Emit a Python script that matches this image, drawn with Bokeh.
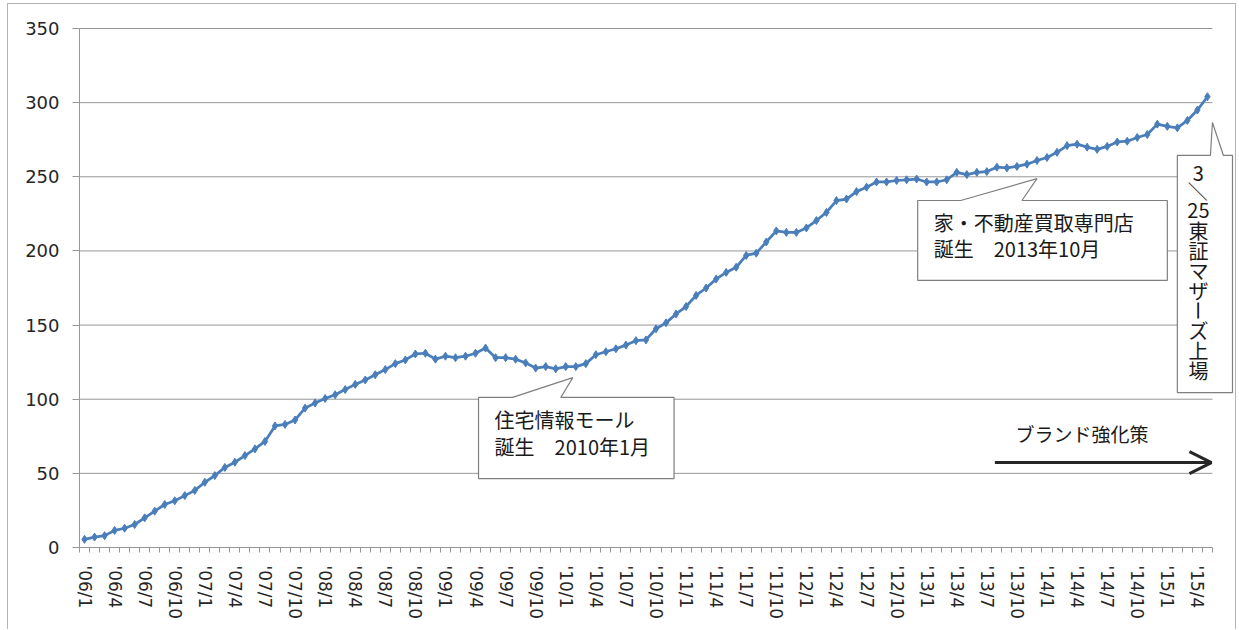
import math
from bokeh.plotting import figure
from bokeh.models import Range1d, FixedTicker, Arrow, OpenHead, ColumnDataSource
from bokeh.core.properties import value
from bokeh.embed import file_html
from bokeh.resources import INLINE

# ---- data: monthly values '06/1 .. '15/5 ----
values = [
    5.5, 7, 8, 11.5, 13, 15.5, 20, 24.5, 29, 31.5, 35, 38.5,            # 2006
    44, 48.5, 54, 57.5, 62, 66.5, 71.5, 82, 83, 86, 94, 97.5,           # 2007
    100.5, 103, 106.5, 110, 113, 116.5, 120, 124, 126.5, 130.5, 131, 127,  # 2008
    129, 128, 129, 131, 134.5, 128, 128, 127, 124.5, 121, 122, 120.5,   # 2009
    122, 122, 124, 130, 132, 134, 136.5, 139.5, 140, 147.5, 151.5, 157.5,  # 2010
    162.5, 170, 175, 181, 185.5, 189, 197, 198.5, 206, 213.5, 212.5, 212.5,  # 2011
    215.5, 220.5, 226, 234, 235, 240, 243, 246.5, 246.5, 247.5, 248, 248.5,  # 2012
    246.5, 246.5, 248, 253, 251.5, 253, 253.5, 256.5, 256, 257, 258.5, 261,  # 2013
    263, 266.5, 271, 272, 270, 268.5, 270.5, 273.5, 274, 276.5, 278.5, 285.5,  # 2014
    284, 283, 288, 295, 304,                                              # 2015
]
month_index = list(range(len(values)))

tick_labels = [
    "'06/1", "'06/4", "'06/7", "'06/10", "'07/1", "'07/4", "'07/7", "'07/10",
    "'08/1", "'08/4", "'08/7", "'08/10", "'09/1", "'09/4", "'09/7", "'09/10",
    "'10/1", "'10/4", "'10/7", "'10/10", "'11/1", "'11/4", "'11/7", "'11/10",
    "'12/1", "'12/4", "'12/7", "'12/10", "'13/1", "'13/4", "'13/7", "'13/10",
    "'14/1", "'14/4", "'14/7", "'14/10", "'15/1", "'15/4",
]
y_ticks = [0, 50, 100, 150, 200, 250, 300, 350]

# ---- annotation texts ----
callout1_lines = ["住宅情報モール", "誕生　2010年1月"]
callout2_lines = ["家・不動産買取専門店", "誕生　2013年10月"]
vertical_chars = ["3", "／", "25", "東", "証", "マ", "ザ", "ー", "ズ", "上", "場"]
brand_text = "ブランド強化策"

# ---- annotation geometry (data units: month index, value) ----
callout1_xs = [39.3, 39.3, 42.7, 48.7, 47.5, 58.8, 58.8]
callout1_ys = [46.5, 101.2, 101.2, 114.6, 101.2, 101.2, 46.5]
callout1_text_x = 40.9
callout1_text_y = [86.3, 68.1]

callout2_xs = [83.1, 83.1, 87.4, 95.0, 93.5, 108.0, 108.0]
callout2_ys = [180.1, 234.0, 234.0, 248.8, 234.0, 234.0, 180.1]
callout2_text_x = 84.7
callout2_text_y = [219.2, 201.4]

callout3_xs = [109.0, 109.0, 112.3, 112.5, 113.6, 114.5, 114.5]
callout3_ys = [104.5, 264.4, 264.4, 286.6, 264.4, 264.4, 104.5]
vertical_x = 111.1
vertical_y = [252.2, 240.1, 227.3, 213.8, 200.3, 186.8, 173.3, 159.8, 146.3, 132.9, 119.4]
vertical_angle = [0, -math.pi / 2, 0, 0, 0, 0, 0, -math.pi / 2, 0, 0, 0]

brand_x, brand_y = 92.85, 76.9
arrow_x0, arrow_x1, arrow_y = 90.8, 112.4, 57.3

LINE_BLUE = "#4a7ebb"
GRID_GRAY = "#979797"
TEXT_DARK = "#262626"
JP_FONT = "Noto Sans CJK JP"

p = figure(
    width=1229, height=626,
    x_range=Range1d(-0.5, 114.9), y_range=Range1d(0, 355.4),
    output_backend="svg", toolbar_location=None,
    min_border_left=71, min_border_right=1, min_border_top=16, min_border_bottom=83,
)
p.styles = {"border": "1px solid #b4b4b4", "border-bottom": "none",
            "margin-left": "7px", "margin-top": "3px"}
p.outline_line_color = None
p.xgrid.visible = False
p.ygrid.visible = False
p.background_fill_color = "white"
p.border_fill_color = "white"

# horizontal gridlines (limited to the category span)
n = len(values)
p.segment(x0=[-0.5] * (len(y_ticks) - 1), x1=[n - 0.5] * (len(y_ticks) - 1),
          y0=y_ticks[1:], y1=y_ticks[1:], line_color=GRID_GRAY, line_width=1)

# y axis
p.yaxis.ticker = FixedTicker(ticks=y_ticks, minor_ticks=[])
p.yaxis.bounds = (0, 350)
p.yaxis.axis_line_color = GRID_GRAY
p.yaxis.major_tick_line_color = GRID_GRAY
p.yaxis.major_tick_out = 7
p.yaxis.major_tick_in = 0
p.yaxis.minor_tick_line_color = None
p.yaxis.major_label_standoff = 13
p.yaxis.major_label_text_font = "DejaVu Sans"
p.yaxis.major_label_text_font_size = "18px"
p.yaxis.major_label_text_color = TEXT_DARK

# x axis
label_pos = list(range(0, n, 3))[:len(tick_labels)]
p.xaxis.ticker = FixedTicker(ticks=label_pos, minor_ticks=[i - 0.5 for i in range(n + 1)])
p.xaxis.bounds = (-0.5, n - 0.5)
p.xaxis.major_label_overrides = {pos: lab for pos, lab in zip(label_pos, tick_labels)}
p.xaxis.axis_line_color = GRID_GRAY
p.xaxis.major_tick_line_color = None
p.xaxis.major_tick_out = 0
p.xaxis.major_tick_in = 0
p.xaxis.minor_tick_line_color = GRID_GRAY
p.xaxis.minor_tick_out = 5
p.xaxis.minor_tick_in = 0
p.xaxis.major_label_orientation = "vertical"
p.xaxis.major_label_standoff = 13
p.xaxis.major_label_text_font = "DejaVu Sans"
p.xaxis.major_label_text_font_size = "17px"
p.xaxis.major_label_text_color = TEXT_DARK

# series
src = ColumnDataSource(dict(x=month_index, y=values))
p.line("x", "y", source=src, line_color=LINE_BLUE, line_width=2.75)
p.scatter("x", "y", source=src, marker="diamond", size=8, fill_color=LINE_BLUE, line_color=LINE_BLUE)

# callouts
for xs, ys in [(callout1_xs, callout1_ys), (callout2_xs, callout2_ys), (callout3_xs, callout3_ys)]:
    p.patch(xs, ys, fill_color="white", line_color="#7f7f7f", line_width=1.2)

p.text(x=[callout1_text_x] * 2, y=callout1_text_y, text=callout1_lines,
       text_font=value(JP_FONT), text_font_size="20px", text_color="#1a1a1a",
       text_align="left", text_baseline="middle")
p.text(x=[callout2_text_x] * 2, y=callout2_text_y, text=callout2_lines,
       text_font=value(JP_FONT), text_font_size="20px", text_color="#1a1a1a",
       text_align="left", text_baseline="middle")

vsrc = ColumnDataSource(dict(x=[vertical_x] * len(vertical_chars), y=vertical_y,
                             t=vertical_chars, a=vertical_angle))
p.text(x="x", y="y", text="t", angle="a", source=vsrc,
       text_font=value(JP_FONT), text_font_size="20px", text_color="#1a1a1a",
       text_align="center", text_baseline="middle")

# brand strategy arrow
p.text(x=[brand_x], y=[brand_y], text=[brand_text],
       text_font=value(JP_FONT), text_font_size="19px", text_color="#1a1a1a",
       text_align="left", text_baseline="middle")
p.add_layout(Arrow(end=OpenHead(size=22, line_width=3, line_color=TEXT_DARK),
                   x_start=arrow_x0, y_start=arrow_y, x_end=arrow_x1, y_end=arrow_y,
                   line_width=3, line_color=TEXT_DARK))

open("out.html", "w").write(file_html(p, INLINE))
